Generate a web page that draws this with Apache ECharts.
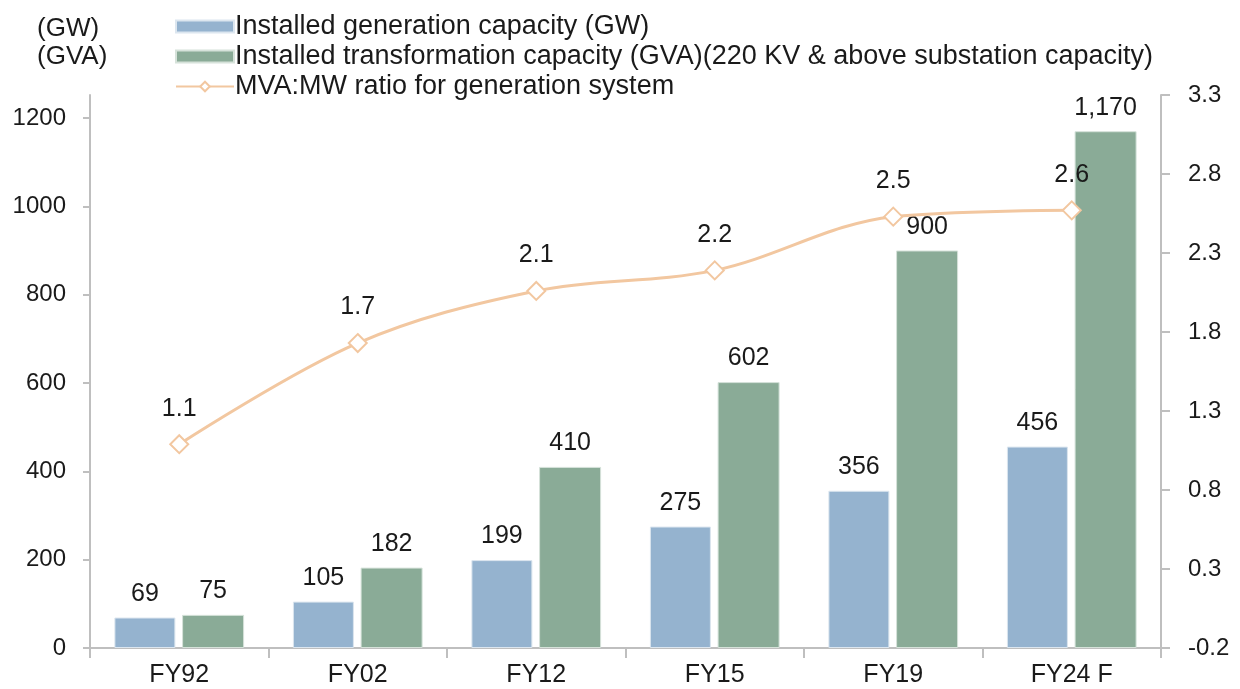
<!DOCTYPE html>
<html>
<head>
<meta charset="utf-8">
<script src="https://cdn.jsdelivr.net/npm/echarts@6/dist/echarts.min.js"></script>
<style>
  html, body { margin: 0; padding: 0; background: #fff; }
  #chart { width: 1240px; height: 689px; }
</style>
</head>
<body>
<div id="chart"></div>
<script>
// Fiscal years on the category axis
const years = ['FY92', 'FY02', 'FY12', 'FY15', 'FY19', 'FY24 F'];
// Installed generation capacity, GW
const generationGW = [69, 105, 199, 275, 356, 456];
// Installed transformation capacity (220 kV & above), GVA
const transformationGVA = [75, 182, 410, 602, 900, 1170];
// MVA:MW ratio for the generation system
const mvaMwRatio = [1.09, 1.73, 2.06, 2.19, 2.53, 2.57];

const FONT = '"Liberation Sans", Arial, sans-serif';
const TEXT = '#1a1a1a';
const AXIS = '#bfbfbf';
const LINE = '#f2c7a0';

const chart = echarts.init(document.getElementById('chart'), null, { renderer: 'canvas' });

chart.setOption({
  animation: false,
  textStyle: { fontFamily: FONT },
  grid: { left: 90, right: 79, top: 95, bottom: 41, containLabel: false },
  legend: {
    orient: 'vertical',
    left: 175,
    top: 13,
    padding: 0,
    itemWidth: 58,
    itemHeight: 12,
    itemGap: 3,
    textStyle: { fontFamily: FONT, fontSize: 27, lineHeight: 27, color: TEXT, padding: [0, 0, 0, -4] },
    data: [
      { name: 'Installed generation capacity (GW)', icon: 'rect' },
      { name: 'Installed transformation capacity (GVA)(220 KV & above substation capacity)', icon: 'rect' },
      { name: 'MVA:MW ratio for generation system' }
    ]
  },
  graphic: [
    { type: 'text', left: 37, top: 16, style: { text: '(GW)', font: '26px ' + FONT, fill: TEXT } },
    { type: 'text', left: 37, top: 44, style: { text: '(GVA)', font: '26px ' + FONT, fill: TEXT } }
  ],
  xAxis: {
    type: 'category',
    data: years,
    axisLine: { lineStyle: { color: AXIS, width: 2 } },
    axisTick: { show: true, alignWithLabel: false, length: 10, lineStyle: { color: AXIS, width: 2 } },
    axisLabel: { fontFamily: FONT, fontSize: 25, color: TEXT, margin: 15 }
  },
  yAxis: [
    {
      type: 'value',
      min: 0,
      max: 1252,
      interval: 200,
      splitLine: { show: false },
      axisLine: { show: true, lineStyle: { color: AXIS, width: 2 } },
      axisTick: { show: true, length: 7, lineStyle: { color: AXIS, width: 2 } },
      axisLabel: {
        fontFamily: FONT, fontSize: 24, color: TEXT, margin: 24, showMaxLabel: false,
        formatter: v => String(v)
      }
    },
    {
      type: 'value',
      min: -0.2,
      max: 3.3,
      interval: 0.5,
      splitLine: { show: false },
      axisLine: { show: true, lineStyle: { color: AXIS, width: 2 } },
      axisTick: { show: true, length: 9, lineStyle: { color: AXIS, width: 2 } },
      axisLabel: {
        fontFamily: FONT, fontSize: 24, color: TEXT, margin: 27,
        formatter: v => v.toFixed(1)
      }
    }
  ],
  series: [
    {
      name: 'Installed generation capacity (GW)',
      type: 'bar',
      data: generationGW,
      barWidth: 61,
      barGap: '11%',
      itemStyle: { color: '#95b3cf', borderColor: '#dce6ef', borderWidth: 1 },
      label: {
        show: true, position: 'top', distance: 11,
        fontFamily: FONT, fontSize: 25, color: TEXT,
        formatter: p => p.value.toLocaleString('en-US')
      }
    },
    {
      name: 'Installed transformation capacity (GVA)(220 KV & above substation capacity)',
      type: 'bar',
      data: transformationGVA,
      barWidth: 62,
      itemStyle: { color: '#8aab97', borderColor: '#d6e2da', borderWidth: 1 },
      label: {
        show: true, position: 'top', distance: 11,
        fontFamily: FONT, fontSize: 25, color: TEXT,
        formatter: p => p.value.toLocaleString('en-US')
      }
    },
    {
      name: 'MVA:MW ratio for generation system',
      type: 'line',
      yAxisIndex: 1,
      data: mvaMwRatio,
      smooth: 0.35,
      symbol: 'diamond',
      symbolSize: [18, 18],
      lineStyle: { color: LINE, width: 3 },
      itemStyle: { color: '#ffffff', borderColor: LINE, borderWidth: 2 },
      z: 5,
      label: {
        show: true, position: 'top', distance: 13,
        fontFamily: FONT, fontSize: 25, color: TEXT,
        formatter: p => p.value.toFixed(1)
      }
    }
  ]
});
</script>
</body>
</html>
